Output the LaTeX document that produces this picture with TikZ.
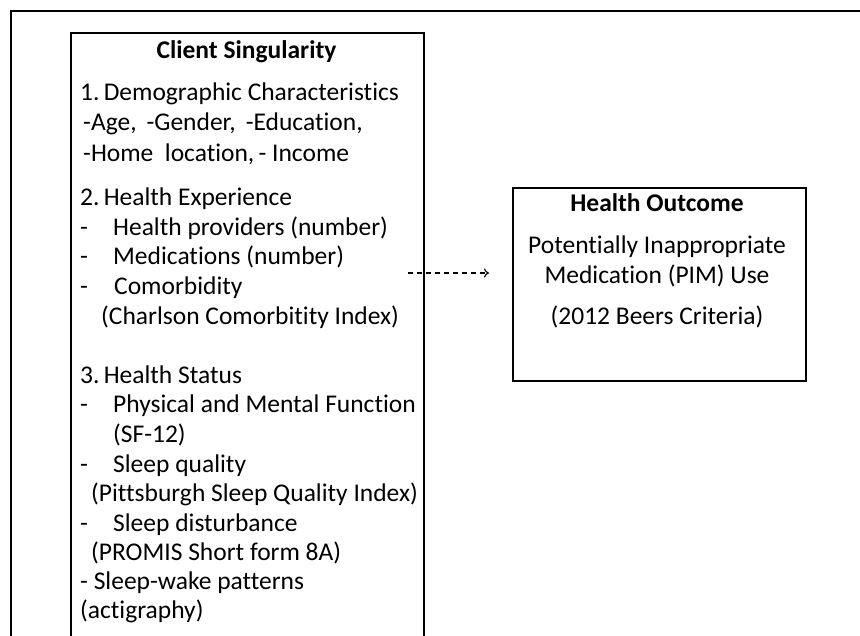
\documentclass[tikz,border=0pt]{standalone}
\usepackage{fontspec}
\setmainfont{Carlito}[Ligatures=NoCommon]
\usetikzlibrary{arrows.meta}
\begin{document}
\begin{tikzpicture}[x=1pt,y=-1pt,
  txt/.style={anchor=base west, inner sep=0pt, font=\fontsize{25.5}{30}\selectfont},
  ctxt/.style={anchor=base, inner sep=0pt, font=\fontsize{25.5}{30}\selectfont},
  hd/.style={anchor=base, inner sep=0pt, font=\fontsize{25.5}{30}\selectfont\bfseries},
  box/.style={draw, line width=1.6pt, inner sep=0pt, anchor=north west},
  frame/.style={line width=2pt},
  conn/.style={dashed, dash pattern=on 5pt off 4pt, line width=1.1pt, -{To[length=5pt,width=9pt]}}
]
\useasboundingbox (0,0) rectangle (860,636);
\clip (0,0) rectangle (860,636);
% outer frame (cut by the page on the right and bottom)
\draw[frame] (11,660) -- (11,11) -- (880,11);
% boxes
\node[box, minimum width=353pt, minimum height=640pt] (client) at (70,32) {};
\node[box, minimum width=293pt, minimum height=193pt] (outcome) at (512,187) {};
% left box text
\node[hd] (c0) at (246.5,59) {Client Singularity};
\node[txt] (c1) at (80,101) {1.\,Demographic Characteristics};
\node[txt] (c2) at (83,131) {-Age, \,-Gender, \,-Education,};
\node[txt] (c3) at (83,161.5) {-Home\ \ location,\,- Income};
\node[txt] (c4) at (80,206) {2.\,Health Experience};
\node[txt] (c5) at (80,235.5) {\makebox[33pt][l]{-}Health providers (number)};
\node[txt] (c6) at (80,265) {\makebox[33pt][l]{-}Medications (number)};
\node[txt] (c7) at (80,295) {\makebox[34pt][l]{-}Comorbidity};
\node[txt] (c8) at (101,324.5) {(Charlson Comorbitity Index)};
\node[txt] (c9) at (80,384) {3.\,Health Status};
\node[txt] (c10) at (80,413) {\makebox[33pt][l]{-}Physical and Mental Function};
\node[txt] (c11) at (113,442.5) {(SF-12)};
\node[txt] (c12) at (80,472) {\makebox[33pt][l]{-}Sleep quality};
\node[txt] (c13) at (91,501.5) {(Pittsburgh Sleep Quality Index)};
\node[txt] (c14) at (80,531) {\makebox[33pt][l]{-}Sleep disturbance};
\node[txt] (c15) at (91,560) {(PROMIS Short form 8A)};
\node[txt] (c16) at (80,589) {- Sleep-wake patterns};
\node[txt] (c17) at (80,618.5) {(actigraphy)};
% right box text
\node[hd] (o0) at (657,212) {Health Outcome};
\node[ctxt] (o1) at (657,254) {Potentially Inappropriate};
\node[ctxt] (o2) at (657,283.5) {Medication (PIM) Use};
\node[ctxt] (o3) at (657,325) {(2012 Beers Criteria)};
% dashed connector
\coordinate (from) at (408,273);
\coordinate (to) at (489,273);
\draw[conn] (from) -- (to);
\end{tikzpicture}
\end{document}
